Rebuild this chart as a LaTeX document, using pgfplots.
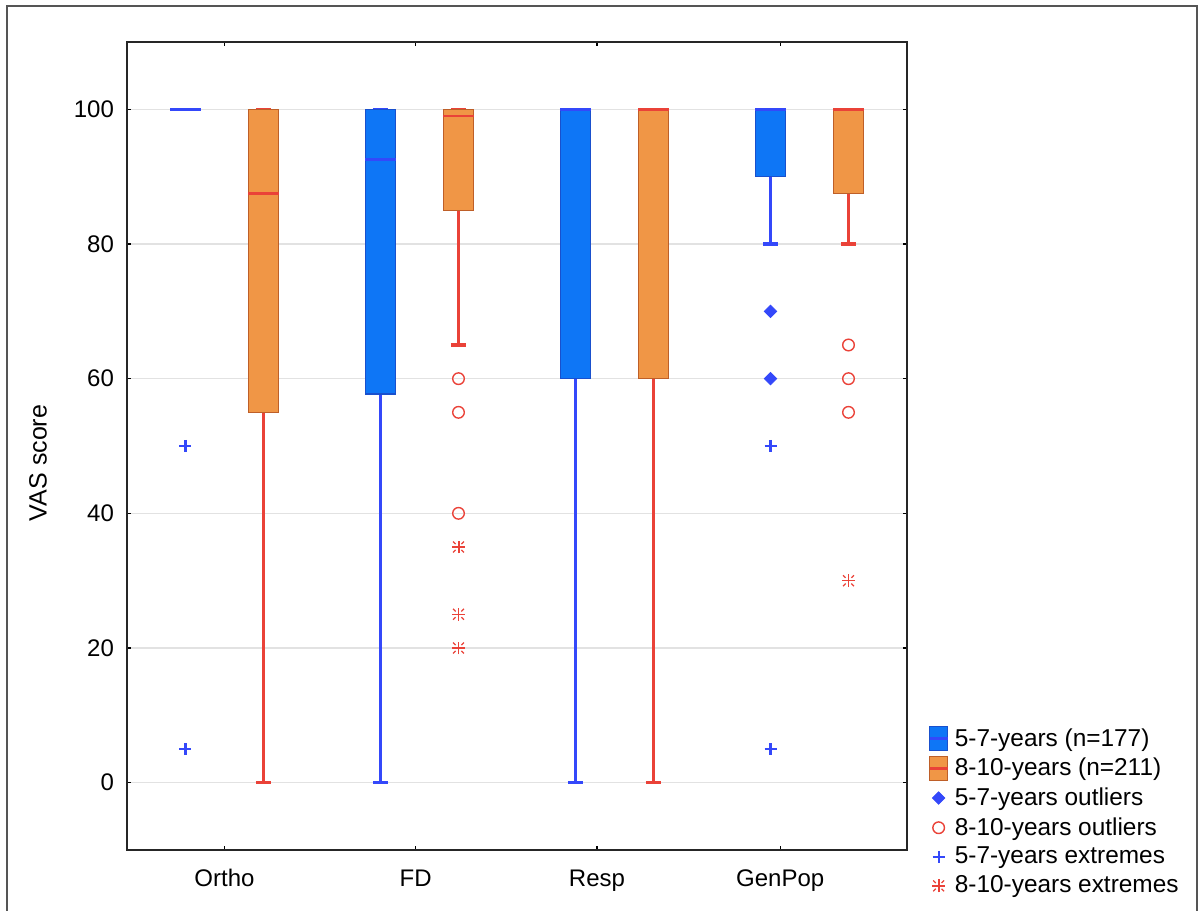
\documentclass[border=0pt]{standalone}
\usepackage{pgfplots}
\pgfplotsset{compat=1.18}
\usepgfplotslibrary{statistics}
\usepackage{fontspec}
\setmainfont{Liberation Sans}

\definecolor{boxblue}{RGB}{14,118,246}
\definecolor{edgeblue}{RGB}{25,80,205}
\definecolor{lineblue}{RGB}{52,72,250}
\definecolor{boxorange}{RGB}{240,150,70}
\definecolor{edgeorange}{RGB}{190,95,40}
\definecolor{linered}{RGB}{234,66,56}
\definecolor{gridgray}{RGB}{226,226,226}
\definecolor{framegray}{RGB}{85,85,85}

% plus sign with short diagonal strokes near the corners
\pgfdeclareplotmark{extreme}{%
  \pgfpathmoveto{\pgfqpoint{-\pgfplotmarksize}{0pt}}%
  \pgfpathlineto{\pgfqpoint{\pgfplotmarksize}{0pt}}%
  \pgfpathmoveto{\pgfqpoint{0pt}{-\pgfplotmarksize}}%
  \pgfpathlineto{\pgfqpoint{0pt}{\pgfplotmarksize}}%
  \pgfusepathqstroke
  \pgfsetlinewidth{0.6pt}%
  \pgfpathmoveto{\pgfqpoint{0.45\pgfplotmarksize}{0.45\pgfplotmarksize}}%
  \pgfpathlineto{\pgfqpoint{0.85\pgfplotmarksize}{0.85\pgfplotmarksize}}%
  \pgfpathmoveto{\pgfqpoint{-0.45\pgfplotmarksize}{0.45\pgfplotmarksize}}%
  \pgfpathlineto{\pgfqpoint{-0.85\pgfplotmarksize}{0.85\pgfplotmarksize}}%
  \pgfpathmoveto{\pgfqpoint{0.45\pgfplotmarksize}{-0.45\pgfplotmarksize}}%
  \pgfpathlineto{\pgfqpoint{0.85\pgfplotmarksize}{-0.85\pgfplotmarksize}}%
  \pgfpathmoveto{\pgfqpoint{-0.45\pgfplotmarksize}{-0.45\pgfplotmarksize}}%
  \pgfpathlineto{\pgfqpoint{-0.85\pgfplotmarksize}{-0.85\pgfplotmarksize}}%
  \pgfusepathqstroke
}

\pgfplotsset{
  young/.style={
    boxplot/draw direction=y,
    boxplot/box extend=0.154, boxplot/whisker extend=0.077,
    boxplot/every box/.style={draw=edgeblue, fill=boxblue, line width=0.8pt},
    boxplot/every median/.style={draw=lineblue, line width=1.4pt},
    boxplot/every whisker/.style={draw=lineblue, line width=1.6pt},
    forget plot},
  older/.style={
    boxplot/draw direction=y,
    boxplot/box extend=0.154, boxplot/whisker extend=0.077,
    boxplot/every box/.style={draw=edgeorange, fill=boxorange, line width=0.8pt},
    boxplot/every median/.style={draw=linered, line width=1.4pt},
    boxplot/every whisker/.style={draw=linered, line width=1.6pt},
    forget plot},
  youngout/.style={only marks, mark=square*, mark size=2.2pt,
    mark options={rotate=45, draw=lineblue, fill=lineblue}},
  olderout/.style={only marks, mark=o, mark size=2.9pt,
    mark options={draw=linered, line width=0.7pt}},
  youngext/.style={only marks, mark=+, mark size=3pt,
    mark options={draw=lineblue, line width=1.1pt}},
  olderext/.style={only marks, mark=extreme, mark size=3.2pt,
    mark options={draw=linered, line width=1pt}},
}

\begin{document}
\begin{tikzpicture}
\useasboundingbox (-63.5pt,-30pt) rectangle (535.5pt,425pt);
\begin{axis}[
  at={(0pt,0pt)}, anchor=south west,
  scale only axis, width=390pt, height=404pt,
  xmin=0.5, xmax=4.5, ymin=-10, ymax=110,
  xtick={1,1.98,2.91,3.85},
  xticklabels={Ortho,FD,Resp,GenPop},
  ytick={0,20,40,60,80,100},
  tick align=inside, major tick length=2pt,
  tick style={black, line width=0.6pt},
  axis line style={black!85, line width=0.8pt},
  ymajorgrids, grid style={gridgray, line width=0.8pt},
  /pgf/number format/assume math mode=true,
  ticklabel style={font=\fontsize{12}{14}\selectfont, text=black},
  yticklabel style={xshift=-3pt},
  xticklabel style={text height=9pt, text depth=2.5pt, yshift=-5.5pt},
  ylabel={VAS score},
  ylabel style={font=\fontsize{12.5}{14}\selectfont, at={(rel axis cs:-0.114,0.479)}, anchor=center},
  legend cell align=left,
  legend style={at={(rel axis cs:1.027,0.156)}, anchor=north west,
    draw=none, fill=none, inner sep=0pt,
    font=\fontsize{12.2}{13}\selectfont,
    row sep=0.5pt, column sep=1pt},
]
% Ortho
\addplot[young, boxplot prepared={draw position=0.8, lower whisker=100,
  lower quartile=100, median=100, upper quartile=100, upper whisker=100}] coordinates {};
\addplot[older, boxplot prepared={draw position=1.2, lower whisker=0,
  lower quartile=55, median=87.5, upper quartile=100, upper whisker=100}] coordinates {};
% FD
\addplot[young, boxplot prepared={draw position=1.8, lower whisker=0,
  lower quartile=57.7, median=92.5, upper quartile=100, upper whisker=100}] coordinates {};
\addplot[older, boxplot prepared={draw position=2.2, lower whisker=65,
  lower quartile=85, median=99, upper quartile=100, upper whisker=100}] coordinates {};
% Resp
\addplot[young, boxplot prepared={draw position=2.8, lower whisker=0,
  lower quartile=60, median=100, upper quartile=100, upper whisker=100}] coordinates {};
\addplot[older, boxplot prepared={draw position=3.2, lower whisker=0,
  lower quartile=60, median=100, upper quartile=100, upper whisker=100}] coordinates {};
% GenPop
\addplot[young, boxplot prepared={draw position=3.8, lower whisker=80,
  lower quartile=90, median=100, upper quartile=100, upper whisker=100}] coordinates {};
\addplot[older, boxplot prepared={draw position=4.2, lower whisker=80,
  lower quartile=87.5, median=100, upper quartile=100, upper whisker=100}] coordinates {};

% outliers and extremes
\addplot[youngout, forget plot] coordinates {(3.8,70) (3.8,60)};
\addplot[olderout, forget plot] coordinates {(2.2,60) (2.2,55) (2.2,40) (4.2,65) (4.2,60) (4.2,55)};
\addplot[youngext, forget plot] coordinates {(0.8,50) (0.8,5) (3.8,50) (3.8,5)};
\addplot[olderext, forget plot] coordinates {(2.2,35) (2.2,25) (2.2,20) (4.2,30)};

\addlegendimage{legend image code/.code={
  \draw[draw=edgeblue, fill=boxblue, line width=0.8pt] (0pt,-6pt) rectangle (9pt,6pt);
  \draw[lineblue, line width=1.2pt] (0pt,0pt) -- (9pt,0pt);}}
\addlegendentry{5-7-years (n=177)}
\addlegendimage{legend image code/.code={
  \draw[draw=edgeorange, fill=boxorange, line width=0.8pt] (0pt,-6pt) rectangle (9pt,6pt);
  \draw[linered, line width=1.2pt] (0pt,0pt) -- (9pt,0pt);}}
\addlegendentry{8-10-years (n=211)}
\addlegendimage{legend image code/.code={
  \draw plot[only marks, mark=square*, mark size=2.2pt,
    mark options={rotate=45, draw=lineblue, fill=lineblue}] coordinates {(4.5pt,0pt)};}}
\addlegendentry{5-7-years outliers}
\addlegendimage{legend image code/.code={
  \draw plot[only marks, mark=o, mark size=2.9pt,
    mark options={draw=linered, line width=0.7pt}] coordinates {(4.5pt,0pt)};}}
\addlegendentry{8-10-years outliers}
\addlegendimage{legend image code/.code={
  \draw plot[only marks, mark=+, mark size=3pt,
    mark options={draw=lineblue, line width=1.1pt}] coordinates {(4.5pt,0pt)};}}
\addlegendentry{5-7-years extremes}
\addlegendimage{legend image code/.code={
  \draw plot[only marks, mark=extreme, mark size=3.2pt,
    mark options={draw=linered, line width=1pt}] coordinates {(4.5pt,0pt)};}}
\addlegendentry{8-10-years extremes}
\end{axis}
\draw[framegray, line width=1pt] (-60pt,-40pt) -- (-60pt,422pt) -- (535pt,422pt) -- (535pt,-40pt);
\end{tikzpicture}
\end{document}
